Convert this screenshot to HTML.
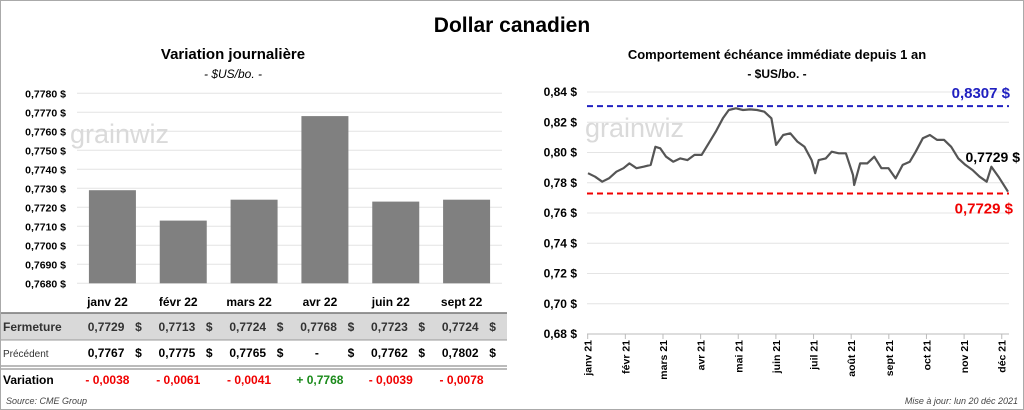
<!DOCTYPE html>
<html><head><meta charset="utf-8"><style>
html,body{margin:0;padding:0;background:#fff;}
svg{display:block;font-family:"Liberation Sans",sans-serif;}
</style></head><body>
<svg id="root" width="1024" height="410" viewBox="0 0 1024 410" xmlns="http://www.w3.org/2000/svg">
<rect x="0.5" y="0.5" width="1023" height="409" fill="#fff" stroke="#aaa"/>
<text x="512" y="32" text-anchor="middle" font-size="21" font-weight="bold" fill="#000">Dollar canadien</text>
<text x="233" y="59" text-anchor="middle" font-size="15" font-weight="bold">Variation  journalière</text>
<text x="233" y="78" text-anchor="middle" font-size="12" font-style="italic">- $US/bo. -</text>
<text x="777" y="59" text-anchor="middle" font-size="13" font-weight="bold">Comportement échéance immédiate depuis 1 an</text>
<text x="777" y="78" text-anchor="middle" font-size="12" font-weight="bold">- $US/bo. -</text>
<g id="left"></g>
<g id="table"></g>
<g id="right"></g>
<text x="6" y="404" font-size="9" font-style="italic" fill="#444">Source: CME Group</text>
<text x="1018" y="404" text-anchor="end" font-size="9" font-style="italic" fill="#444">Mise à jour: lun 20 déc 2021</text>
</svg>
<script>
const months22 = ["janv 22","févr 22","mars 22","avr 22","juin 22","sept 22"];
const closeVals = [0.7729,0.7713,0.7724,0.7768,0.7723,0.7724];
const prevVals = [0.7767,0.7775,0.7765,null,0.7762,0.7802];
const changeVals = [-0.0038,-0.0061,-0.0041,0.7768,-0.0039,-0.0078];
const leftTicks = [0.768,0.769,0.770,0.771,0.772,0.773,0.774,0.775,0.776,0.777,0.778];
const days = [0,6,12,18,24,30,35,41,47,53,57,61,66,72,78,84,90,96,102,108,114,119,125,131,137,143,149,155,159,165,171,177,183,189,192,195,201,206,212,218,224,225,230,236,242,248,254,260,266,272,277,283,289,295,301,307,313,319,325,331,337,341,347,355];
const prices = [0.7863,0.784,0.7807,0.7831,0.7873,0.7896,0.7928,0.7896,0.7906,0.7918,0.8038,0.8028,0.7972,0.7939,0.7961,0.795,0.7984,0.7984,0.8061,0.8138,0.8226,0.8281,0.8292,0.8281,0.8285,0.8281,0.827,0.8226,0.805,0.8116,0.8127,0.8072,0.8038,0.795,0.7863,0.795,0.7961,0.8005,0.7995,0.7995,0.7851,0.7785,0.7928,0.7928,0.7972,0.7896,0.7896,0.7829,0.7918,0.7939,0.8005,0.8094,0.8116,0.8083,0.8083,0.8038,0.7961,0.7918,0.7884,0.784,0.7807,0.7906,0.784,0.7741];
const rightTicks = [0.68,0.70,0.72,0.74,0.76,0.78,0.80,0.82,0.84];
const months21 = ["janv 21","févr 21","mars 21","avr 21","mai 21","juin 21","juil 21","août 21","sept 21","oct 21","nov 21","déc 21"];
const highVal = 0.8307, lowVal = 0.7729, lastVal = 0.7729;

const NS="http://www.w3.org/2000/svg";
function mk(parent,tag,attrs,text){const e=document.createElementNS(NS,tag);for(const k in attrs)e.setAttribute(k,attrs[k]);if(text!==undefined)e.textContent=text;parent.appendChild(e);return e;}
const fmt=v=>v.toFixed(4).replace('.',',');

const L=document.getElementById('left');
const ly=v=>283.3-(v-0.768)/0.001*19;
const lx0=77,lw=425,band=lw/months22.length;
const lcx=i=>lx0+band*(i+0.5);
leftTicks.forEach(t=>{
  const g=mk(L,'line',{x1:lx0,x2:502,y1:ly(t),y2:ly(t),stroke:'#e4e4e4','stroke-width':1});
  
  
  const tx=mk(L,'text',{x:66,y:ly(t)+4,'text-anchor':'end','font-size':10.5,'font-weight':'bold'},fmt(t)+' $');
  
  
});
const wm1=mk(L,'text',{x:70,y:143,'font-size':27,fill:'#dadada'},'grainwiz');


closeVals.forEach((v,i)=>{
  const r=mk(L,'rect',{x:lcx(i)-23.5,y:ly(v),width:47,height:283.3-ly(v),fill:'#808080'});
  
  
});

const T=document.getElementById('table');
const r1=mk(T,'rect',{x:1,y:313,width:506,height:27,fill:'#d9d9d9'});


[[1,313,507,313,'#777',1.5],[1,340,507,340,'#999',1],[1,366,507,366,'#777',1],[1,369,507,369,'#777',1]].forEach(a=>{
  const l=mk(T,'line',{x1:a[0],y1:a[1],x2:a[2],y2:a[3],stroke:a[4],'stroke-width':a[5]});
  
  
});
const rl=[['Fermeture',331,12,'bold','#333'],['Précédent',357,10,'normal','#333'],['Variation',384,12,'bold','#000']];
rl.forEach(a=>{const t=mk(T,'text',{x:3,y:a[1],'font-size':a[2],'font-weight':a[3],fill:a[4]},a[0]);
  
  });
months22.forEach((m,i)=>{
  const c=lcx(i);
  const h=mk(T,'text',{x:c-5,y:306,'text-anchor':'middle','font-size':12,'font-weight':'bold'},m);
  
  
  const a=mk(T,'text',{x:c+12,y:331,'text-anchor':'end','font-size':12,'font-weight':'bold',fill:'#333'},fmt(closeVals[i]));
  
  
  const a2=mk(T,'text',{x:c+26,y:331,'text-anchor':'middle','font-size':12,'font-weight':'bold',fill:'#333'},'$');
  
  
  const p=prevVals[i];
  const b=mk(T,'text',{x:p===null?c-8:c+12,y:357,'text-anchor':p===null?'middle':'end','font-size':12,'font-weight':'bold'},p===null?'-':fmt(p));
  
  
  const b2=mk(T,'text',{x:c+26,y:357,'text-anchor':'middle','font-size':12,'font-weight':'bold'},'$');
  
  
  const d=changeVals[i];
  const s=(d>=0?'+ ':'- ')+fmt(Math.abs(d));
  const v=mk(T,'text',{x:c-5,y:384,'text-anchor':'middle','font-size':12,'font-weight':'bold',fill:d>=0?'#1a8a1a':'#f00000'},s);
  
  
});

const R=document.getElementById('right');
const ry=v=>92+(0.84-v)/0.02*30.25;
const rx=d=>588+d*(420/355);
const mx=i=>587.7+i*37.64;
rightTicks.forEach(t=>{
  const g=mk(R,'line',{x1:587,x2:1009,y1:ry(t),y2:ry(t),stroke:'#e4e4e4','stroke-width':1});
  
  
  const tx=mk(R,'text',{x:577,y:ry(t)+4,'text-anchor':'end','font-size':12,'font-weight':'bold'},t.toFixed(2).replace('.',',')+' $');
  
  
});
const ax=mk(R,'line',{x1:587,x2:1009,y1:334,y2:334,stroke:'#bbb'});


months21.forEach((m,i)=>{
  const tk=mk(R,'line',{x1:mx(i),x2:mx(i),y1:334,y2:339,stroke:'#bbb'});
  
  
  const t=mk(R,'text',{x:0,y:0,'text-anchor':'end','font-size':10.5,'font-weight':'bold',transform:`translate(${mx(i)+4},340) rotate(-90)`},m);
  
  
});
const wm2=mk(R,'text',{x:585,y:137,'font-size':27,fill:'#dadada'},'grainwiz');


const hl=mk(R,'line',{x1:587,x2:1009,y1:ry(highVal),y2:ry(highVal),stroke:'#2020c0','stroke-width':2,'stroke-dasharray':'6,4'});


const ll=mk(R,'line',{x1:587,x2:1009,y1:ry(lowVal),y2:ry(lowVal),stroke:'#f00000','stroke-width':2,'stroke-dasharray':'6,4'});


const pl=mk(R,'polyline',{points:days.map((d,i)=>rx(d).toFixed(1)+','+ry(prices[i]).toFixed(1)).join(' '),fill:'none',stroke:'#555','stroke-width':2.2,'stroke-linejoin':'round'});


const hlab=mk(R,'text',{x:1010,y:ry(highVal)-8,'text-anchor':'end','font-size':15,'font-weight':'bold',fill:'#2020c0'},fmt(highVal)+' $');


const llab=mk(R,'text',{x:1013,y:ry(lowVal)+20,'text-anchor':'end','font-size':15,'font-weight':'bold',fill:'#f00000'},fmt(lowVal)+'  $');


const clab=mk(R,'text',{x:1020,y:162,'text-anchor':'end','font-size':14,'font-weight':'bold',fill:'#000'},fmt(lastVal)+' $');


</script>
</body></html>
